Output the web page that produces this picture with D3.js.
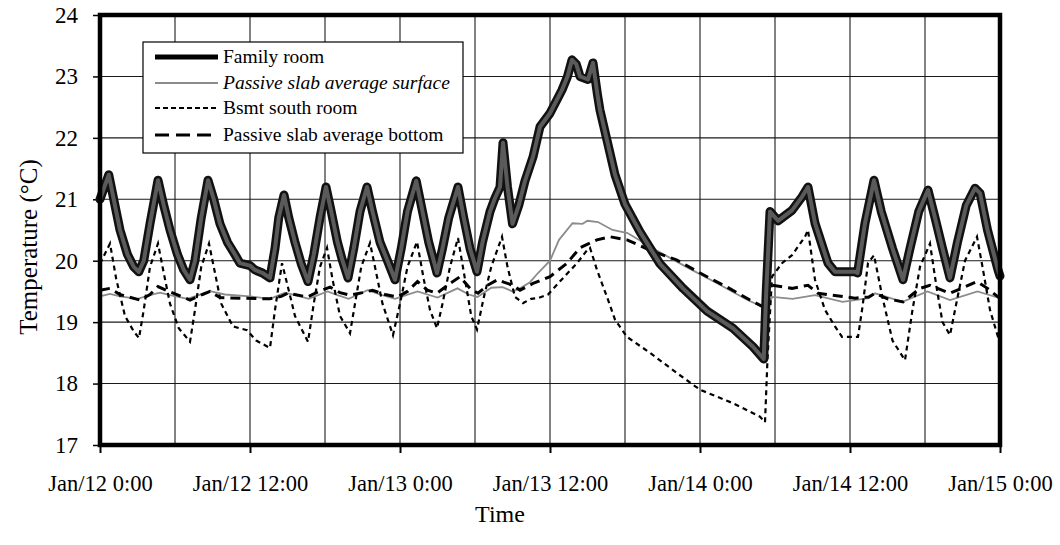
<!DOCTYPE html>
<html>
<head>
<meta charset="utf-8">
<script src="https://cdn.jsdelivr.net/npm/d3@7"></script>
<style>
  html, body { margin: 0; padding: 0; background: #fff; }
  svg { display: block; }
  text { font-family: "Liberation Serif", "Times New Roman", serif; fill: #000; }
</style>
</head>
<body>
<svg id="chart" width="1060" height="545"></svg>
<script>
// Hours since Jan/12 0:00 and temperatures (°C) for each sensor
const familyHours = [0,0.7,1.1,1.6,2.2,2.7,3.1,3.5,4.0,4.64,5.1,5.6,6.2,6.7,7.2,7.6,8.1,8.64,9.1,9.6,10.2,10.8,11.2,12.0,12.4,13.0,13.6,14.0,14.3,14.72,15.1,15.6,16.1,16.64,17.1,17.6,18.08,18.5,19.0,19.4,19.84,20.3,20.8,21.36,21.8,22.4,23.0,23.6,24.1,24.6,25.3,25.8,26.3,26.96,27.4,27.9,28.64,29.1,29.6,30.16,30.6,31.2,31.6,32.0,32.24,32.6,33.0,33.5,34.0,34.64,35.2,36.0,36.96,37.4,37.76,38.1,38.4,39.04,39.44,39.8,40.0,40.56,41.2,42.0,43.2,44.8,46.64,48.56,50.64,52.24,53.1,53.3,53.6,54.24,55.36,56.16,56.64,57.2,58.24,58.8,60.4,60.6,61.2,61.92,62.5,63.4,64.24,64.8,65.5,66.24,66.8,67.4,68.0,68.6,69.3,70.0,70.4,71.0,71.84,72];
const familyTemp  = [21.0,21.4,21.0,20.5,20.1,19.9,19.82,20.0,20.6,21.31,20.9,20.5,20.1,19.85,19.69,20.0,20.7,21.31,21.0,20.6,20.3,20.1,19.96,19.92,19.85,19.8,19.72,20.2,20.7,21.07,20.7,20.3,19.95,19.66,20.1,20.7,21.2,20.8,20.3,20.0,19.72,20.2,20.8,21.2,20.8,20.3,20.0,19.69,20.2,20.8,21.3,20.8,20.3,19.8,20.2,20.7,21.2,20.7,20.2,19.82,20.3,20.8,21.02,21.2,21.92,21.2,20.6,20.9,21.3,21.69,22.18,22.4,22.78,23.0,23.27,23.2,23.0,22.95,23.22,22.7,22.45,21.96,21.4,20.92,20.47,19.95,19.55,19.18,18.9,18.6,18.4,19.5,20.8,20.65,20.82,21.04,21.2,20.61,19.96,19.82,19.82,19.8,20.61,21.31,20.8,20.2,19.69,20.2,20.8,21.15,20.7,20.2,19.72,20.3,20.9,21.18,21.1,20.5,19.85,19.75];

const surfaceHours = [0,0.8,1.6,3.0,4.0,4.8,5.6,7.0,8.2,8.9,10.0,12.0,13.6,14.8,16.0,16.7,18.2,19.0,19.9,21.4,22.4,23.6,25.4,26.2,27.0,28.6,29.5,30.2,31.3,32.2,33.0,33.6,34.4,35.04,36.0,36.72,37.8,38.6,39.0,39.84,41.0,42.2,44.5,46.9,49.4,51.8,53.2,53.8,55.4,57.2,59.4,61.5,62.0,64.2,66.2,68.0,70.2,71.0,72];
const surfaceTemp  = [19.42,19.46,19.42,19.38,19.44,19.48,19.44,19.38,19.46,19.5,19.45,19.42,19.38,19.48,19.42,19.38,19.5,19.44,19.38,19.52,19.45,19.38,19.5,19.45,19.4,19.55,19.45,19.41,19.56,19.57,19.5,19.55,19.65,19.8,20.0,20.34,20.61,20.6,20.65,20.63,20.5,20.45,20.17,19.9,19.63,19.36,19.23,19.41,19.38,19.44,19.33,19.39,19.47,19.33,19.5,19.36,19.5,19.45,19.39];

const bsmtHours = [0,0.8,1.3,2.0,2.7,3.12,3.5,4.0,4.64,5.1,5.6,6.3,7.2,7.6,8.1,8.72,9.2,9.7,10.64,11.76,12.5,13.6,14.0,14.56,15.0,15.6,16.64,17.1,17.6,18.16,18.6,19.2,20.0,20.4,20.9,21.6,22.1,22.6,23.44,24.0,24.6,25.36,25.9,26.4,26.96,27.4,28.0,28.64,29.2,29.7,30.16,30.7,31.3,32.16,32.6,33.2,33.84,34.5,35.04,35.84,36.96,38.16,38.96,39.2,39.76,40.56,41.2,42.16,44.0,46.16,48.0,50.64,52.8,53.2,53.4,53.76,54.56,55.36,56.4,56.64,57.2,58.0,58.8,59.36,60.64,61.0,61.44,61.92,62.6,63.4,64.4,65.0,65.6,66.4,66.9,67.4,68.0,68.6,69.2,70.16,70.6,71.2,71.84,72];
const bsmtTemp  = [19.95,20.28,19.7,19.1,18.85,18.74,19.2,19.9,20.28,19.8,19.3,18.9,18.68,19.2,19.9,20.28,19.8,19.3,18.93,18.87,18.7,18.58,19.2,19.96,19.6,19.1,18.68,19.3,19.9,20.21,19.7,19.1,18.82,19.3,19.9,20.29,19.8,19.3,18.79,19.3,19.9,20.31,19.7,19.2,18.9,19.3,19.9,20.37,19.7,19.1,18.88,19.4,19.9,20.39,19.9,19.41,19.31,19.38,19.39,19.45,19.7,19.96,20.17,20.21,19.85,19.41,19.04,18.76,18.5,18.17,17.9,17.68,17.46,17.37,18.4,19.74,19.96,20.09,20.39,20.5,19.69,19.2,18.93,18.76,18.76,19.25,19.96,20.09,19.4,18.7,18.38,19.2,19.9,20.28,19.6,19.0,18.79,19.4,20.0,20.39,19.9,19.2,18.76,18.7];

const bottomHours = [0,0.8,1.6,3.2,4.0,4.64,5.5,7.2,8.2,8.8,9.6,11.2,13.6,14.5,15.0,16.6,17.5,18.4,19.2,20.0,21.0,21.8,22.8,23.8,24.6,25.4,26.2,26.96,27.8,28.8,29.6,30.24,31.0,31.8,32.3,33.04,33.6,34.64,36.0,37.36,38.4,39.76,40.8,42.16,44.0,46.16,48.0,50.16,52.0,53.04,53.4,53.76,55.36,56.64,57.44,58.56,60.4,61.5,62.0,63.0,64.24,65.6,66.4,68.0,70.16,71.0,71.84,72];
const bottomTemp  = [19.52,19.55,19.45,19.36,19.45,19.58,19.5,19.36,19.45,19.5,19.4,19.39,19.38,19.42,19.47,19.41,19.5,19.57,19.48,19.44,19.48,19.52,19.45,19.41,19.5,19.66,19.52,19.47,19.6,19.74,19.55,19.47,19.6,19.69,19.65,19.6,19.52,19.63,19.74,19.96,20.21,20.34,20.39,20.34,20.17,20.01,19.8,19.57,19.36,19.25,19.45,19.6,19.55,19.6,19.47,19.44,19.39,19.41,19.47,19.38,19.33,19.55,19.6,19.47,19.66,19.55,19.41,19.4];

const seriesNames = ["Family room", "Passive slab average surface", "Bsmt south room", "Passive slab average bottom"];
const xTickHours = [0, 12, 24, 36, 48, 60, 72];
const xTickLabels = ["Jan/12 0:00", "Jan/12 12:00", "Jan/13 0:00", "Jan/13 12:00", "Jan/14 0:00", "Jan/14 12:00", "Jan/15 0:00"];
const yTicks = [17, 18, 19, 20, 21, 22, 23, 24];

const svg = d3.select("#chart");
const plot = { left: 100, top: 15, right: 1000, bottom: 445 };

const x = d3.scaleLinear().domain([0, 72]).range([plot.left, plot.right]);
const y = d3.scaleLinear().domain([17, 24]).range([plot.bottom, plot.top]);

// Grid
const grid = svg.append("g").attr("stroke", "#1a1a1a").attr("stroke-width", 1.1);
grid.selectAll(".gh").data(yTicks.slice(1, -1)).join("line")
  .attr("x1", plot.left).attr("x2", plot.right)
  .attr("y1", d => y(d)).attr("y2", d => y(d));
grid.selectAll(".gv").data(d3.range(6, 72, 6)).join("line")
  .attr("y1", plot.top).attr("y2", plot.bottom)
  .attr("x1", d => x(d)).attr("x2", d => x(d));

// Axes
const yAxis = d3.axisLeft(y).tickValues(yTicks).tickSize(7).tickPadding(15).tickFormat(d3.format("d"));
const yG = svg.append("g").attr("transform", `translate(${plot.left},0)`).call(yAxis);
yG.select(".domain").remove();
yG.selectAll("line").attr("stroke", "#000").attr("stroke-width", 1.5);
yG.selectAll("text").attr("font-size", 23).style("font-family", '"Liberation Serif", serif');

const xAxis = d3.axisBottom(x).tickValues(xTickHours).tickSize(8).tickPadding(22)
  .tickFormat((d, i) => xTickLabels[i]);
const xG = svg.append("g").attr("transform", `translate(0,${plot.bottom})`).call(xAxis);
xG.select(".domain").remove();
xG.selectAll("line").attr("stroke", "#000").attr("stroke-width", 2);
xG.selectAll("text").attr("font-size", 22.5).style("font-family", '"Liberation Serif", serif');

// Series
const zip = (hs, vs) => hs.map((h, i) => [h, vs[i]]);
const line = d3.line().x(d => x(d[0])).y(d => y(d[1]));

const surface = zip(surfaceHours, surfaceTemp);
const bottom = zip(bottomHours, bottomTemp);
const bsmt = zip(bsmtHours, bsmtTemp);
const family = zip(familyHours, familyTemp);

svg.append("path").datum(surface).attr("d", line)
  .attr("fill", "none").attr("stroke", "#8c8c8c").attr("stroke-width", 1.8);
svg.append("path").datum(bottom).attr("d", line)
  .attr("fill", "none").attr("stroke", "#000").attr("stroke-width", 3)
  .attr("stroke-dasharray", "10,6");
svg.append("path").datum(bsmt).attr("d", line)
  .attr("fill", "none").attr("stroke", "#000").attr("stroke-width", 2.2)
  .attr("stroke-dasharray", "5,4");
svg.append("path").datum(family).attr("d", line)
  .attr("fill", "none").attr("stroke", "#111").attr("stroke-width", 9)
  .attr("stroke-linejoin", "round").attr("stroke-linecap", "round");
svg.append("path").datum(family).attr("d", line)
  .attr("fill", "none").attr("stroke", "#5a5a5a").attr("stroke-width", 4)
  .attr("stroke-linejoin", "round").attr("stroke-linecap", "round");

// Plot frame
svg.append("rect")
  .attr("x", plot.left).attr("y", plot.top)
  .attr("width", plot.right - plot.left).attr("height", plot.bottom - plot.top)
  .attr("fill", "none").attr("stroke", "#000").attr("stroke-width", 4.5);

// Legend
const legend = svg.append("g").attr("transform", "translate(143,42)");
legend.append("rect").attr("width", 320).attr("height", 111)
  .attr("fill", "#fff").attr("stroke", "#000").attr("stroke-width", 1.2);
const rowY = [15, 41, 66, 93];
const styles = [
  { stroke: "#000", width: 5, dash: null },
  { stroke: "#8c8c8c", width: 1.8, dash: null },
  { stroke: "#000", width: 2, dash: "5,3" },
  { stroke: "#000", width: 3, dash: "14,7" }
];
seriesNames.forEach((name, i) => {
  const g = legend.append("g").attr("transform", `translate(0,${rowY[i]})`);
  g.append("line").attr("x1", 12).attr("x2", 75)
    .attr("stroke", styles[i].stroke).attr("stroke-width", styles[i].width)
    .attr("stroke-dasharray", styles[i].dash);
  g.append("text").attr("x", 80).attr("y", 6).attr("font-size", 19.5)
    .attr("font-style", i === 1 ? "italic" : "normal")
    .text(name);
});

// Axis titles
svg.append("text").attr("x", 500).attr("y", 522).attr("text-anchor", "middle")
  .attr("font-size", 24).text("Time");
svg.append("text").attr("transform", "translate(37,247) rotate(-90)")
  .attr("text-anchor", "middle").attr("font-size", 25).text("Temperature (°C)");
</script>
</body>
</html>
